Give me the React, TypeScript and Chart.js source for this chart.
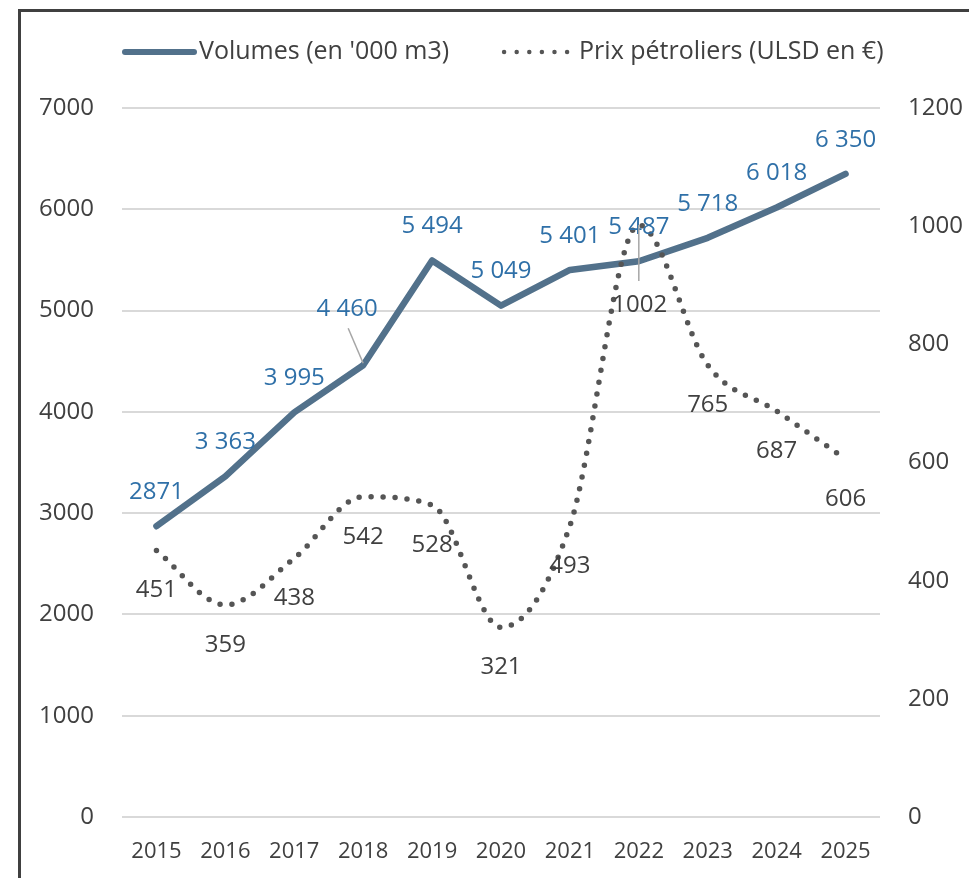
import { useEffect, useRef } from "react";
import { Chart, registerables } from "chart.js";

Chart.register(...registerables);

const years = ["2015", "2016", "2017", "2018", "2019", "2020", "2021", "2022", "2023", "2024", "2025"];
const volumes = [2871, 3363, 3995, 4460, 5494, 5049, 5401, 5487, 5718, 6018, 6350];
const volumeLabels = ["2871", "3\u00A0363", "3\u00A0995", "4\u00A0460", "5\u00A0494", "5\u00A0049", "5\u00A0401", "5\u00A0487", "5\u00A0718", "6\u00A0018", "6\u00A0350"];
const prices = [451, 359, 438, 542, 528, 321, 493, 1002, 765, 687, 606];
const priceLabels = ["451", "359", "438", "542", "528", "321", "493", "1002", "765", "687", "606"];
const seriesNames = ["Volumes (en '000 m3)", "Prix pétroliers (ULSD en €)"];
const leftAxis = { min: 0, max: 7000, step: 1000 };
const rightAxis = { min: 0, max: 1200, step: 200 };

const FONT = "'Open Sans', 'Noto Sans', sans-serif";
const VOL_COLOR = "#52718B";
const VOL_LABEL = "#2F70A8";
const PRICE_COLOR = "#555555";
const TEXT = "#404040";

// label placement (style): default offsets and exceptions
const volOffset = (i: number) => (i === 3 ? { dx: -16, dy: -56, leader: true } : { dx: 0, dy: -34, leader: false });
const priceOffset = (i: number) => (i === 7 ? { dx: 1, dy: 80, leader: true } : { dx: 0, dy: 40, leader: false });

const labelsPlugin = {
  id: "customLabels",
  afterDatasetsDraw(chart: any) {
    const ctx = chart.ctx;
    ctx.save();
    ctx.font = `24px ${FONT}`;
    ctx.textAlign = "center";
    ctx.textBaseline = "middle";
    const vMeta = chart.getDatasetMeta(0);
    const pMeta = chart.getDatasetMeta(1);
    vMeta.data.forEach((pt: any, i: number) => {
      const o = volOffset(i);
      const lx = pt.x + o.dx;
      const ly = pt.y + o.dy;
      if (o.leader) {
        ctx.strokeStyle = "#A6A6A6";
        ctx.lineWidth = 1.5;
        ctx.beginPath();
        ctx.moveTo(pt.x, pt.y - 2);
        ctx.lineTo(lx + 1, ly + 19);
        ctx.stroke();
      }
      ctx.fillStyle = VOL_LABEL;
      ctx.fillText(volumeLabels[i], lx, ly);
    });
    pMeta.data.forEach((pt: any, i: number) => {
      const o = priceOffset(i);
      const lx = pt.x + o.dx;
      const ly = pt.y + o.dy;
      if (o.leader) {
        ctx.strokeStyle = "#A6A6A6";
        ctx.lineWidth = 1.5;
        ctx.beginPath();
        ctx.moveTo(pt.x, pt.y);
        ctx.lineTo(pt.x, ly - 24);
        ctx.stroke();
      }
      ctx.fillStyle = TEXT;
      ctx.fillText(priceLabels[i], lx, ly);
    });
    ctx.restore();
  },
};

const legendPlugin = {
  id: "customLegend",
  afterDraw(chart: any) {
    const ctx = chart.ctx;
    const left = chart.chartArea.left;
    const y = 52;
    ctx.save();
    ctx.font = `25px ${FONT}`;
    ctx.textBaseline = "middle";
    ctx.textAlign = "left";
    // solid sample
    ctx.strokeStyle = VOL_COLOR;
    ctx.lineWidth = 6;
    ctx.lineCap = "round";
    ctx.beginPath();
    ctx.moveTo(left + 3, y);
    ctx.lineTo(left + 72, y);
    ctx.stroke();
    ctx.fillStyle = TEXT;
    ctx.fillText(seriesNames[0], left + 77, y);
    const w1 = ctx.measureText(seriesNames[0]).width;
    const s2 = left + 77 + w1 + 55;
    ctx.strokeStyle = PRICE_COLOR;
    ctx.lineWidth = 4.5;
    ctx.setLineDash([0, 12.6]);
    ctx.beginPath();
    ctx.moveTo(s2, y);
    ctx.lineTo(s2 + 64, y);
    ctx.stroke();
    ctx.setLineDash([]);
    ctx.fillText(seriesNames[1], s2 + 75, y);
    ctx.restore();
  },
};

export default function App() {
  const ref = useRef<HTMLCanvasElement>(null);
  useEffect(() => {
    if (!ref.current) return;
    const chart = new Chart(ref.current, {
      type: "line",
      data: {
        labels: years,
        datasets: [
          {
            label: seriesNames[0],
            data: volumes,
            yAxisID: "y",
            borderColor: VOL_COLOR,
            backgroundColor: VOL_COLOR,
            borderWidth: 6.5,
            borderCapStyle: "round",
            borderJoinStyle: "round",
            pointRadius: 0,
            tension: 0,
            order: 1,
          },
          {
            label: seriesNames[1],
            data: prices,
            yAxisID: "y1",
            borderColor: PRICE_COLOR,
            backgroundColor: PRICE_COLOR,
            borderWidth: 5.5,
            borderDash: [0, 12],
            borderCapStyle: "round",
            pointRadius: 0,
            cubicInterpolationMode: "monotone",
            order: 0,
          },
        ],
      },
      options: {
        responsive: false,
        animation: false,
        layout: { padding: { top: 108, left: 0, right: 0, bottom: 0 } },
        plugins: { legend: { display: false }, tooltip: { enabled: false } },
        scales: {
          x: {
            offset: true,
            grid: { display: false, drawTicks: false },
            border: { display: false },
            ticks: { color: TEXT, font: { family: FONT, size: 22 }, padding: 22, maxRotation: 0 },
            afterFit: (s: any) => { s.height = 61; },
          },
          y: {
            position: "left",
            min: leftAxis.min,
            max: leftAxis.max,
            grid: { color: "#D9D9D9", lineWidth: 2, drawTicks: false },
            border: { display: false },
            ticks: { stepSize: leftAxis.step, color: TEXT, font: { family: FONT, size: 24 }, padding: 28, callback: (v: any) => String(v) },
            afterFit: (s: any) => { s.width = 122; },
          },
          y1: {
            position: "right",
            min: rightAxis.min,
            max: rightAxis.max,
            grid: { display: false, drawTicks: false },
            border: { display: false },
            ticks: { stepSize: rightAxis.step, color: TEXT, font: { family: FONT, size: 24 }, padding: 28, callback: (v: any) => String(v) },
            afterFit: (s: any) => { s.width = 89; },
          },
        },
      },
      plugins: [labelsPlugin, legendPlugin],
    } as any);
    return () => chart.destroy();
  }, []);
  return (
    <div style={{ position: "fixed", left: 0, top: 0, width: 969, height: 878, overflow: "hidden", background: "#fff" }}>
      <div style={{ position: "absolute", left: 18, top: 9, width: 2000, height: 2000, borderLeft: "3px solid #404040", borderTop: "3px solid #404040" }} />
      <canvas ref={ref} width={969} height={878} style={{ position: "absolute", left: 0, top: 0, width: 969, height: 878 }} />
    </div>
  );
}
